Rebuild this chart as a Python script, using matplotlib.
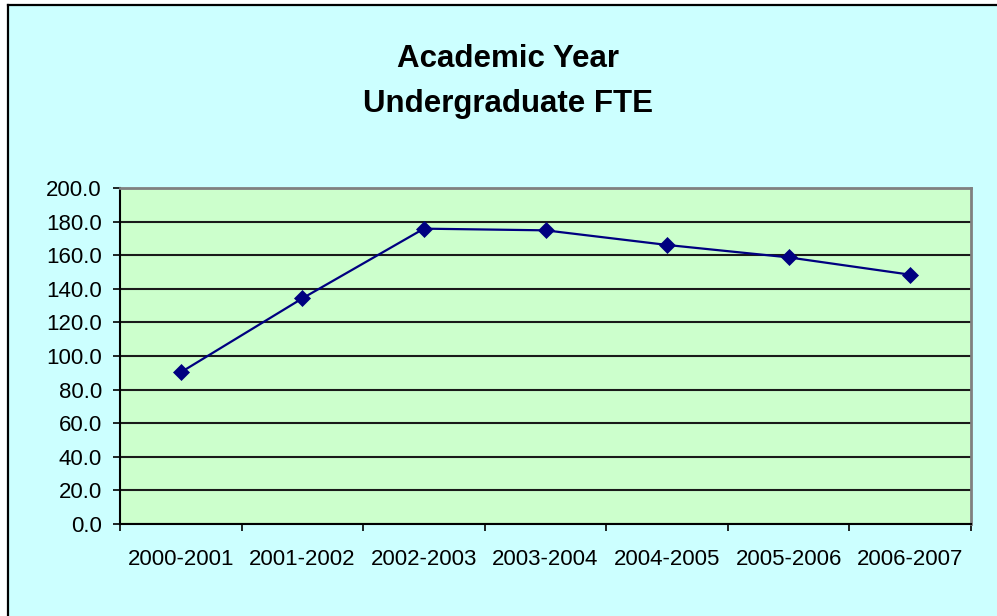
import matplotlib
matplotlib.use("Agg")
import matplotlib.pyplot as plt
from matplotlib.lines import Line2D
from matplotlib.patches import Rectangle

categories = ["2000-2001", "2001-2002", "2002-2003", "2003-2004",
              "2004-2005", "2005-2006", "2006-2007"]
fte = [90.3, 134.3, 175.8, 174.8, 166.1, 158.7, 148.4]
y_ticks = [0, 20, 40, 60, 80, 100, 120, 140, 160, 180, 200]
title_lines = ["Academic Year", "Undergraduate FTE"]

plt.rcParams['font.family'] = ['Liberation Sans', 'DejaVu Sans']

W, H = 997, 616
fig = plt.figure(figsize=(W / 100, H / 100), dpi=100, facecolor='white')

# chart background with border on top and left
fig.patches.append(Rectangle((8 / W, 0), 1 - 8 / W, 1 - 5 / H,
                             transform=fig.transFigure, facecolor='#CCFFFF',
                             edgecolor='none', zorder=-10))
fig.lines.append(Line2D([8 / W, 8 / W], [0, 1 - 5 / H], transform=fig.transFigure,
                        color='black', lw=1.6, zorder=-9))
fig.lines.append(Line2D([8 / W, 1], [1 - 5 / H, 1 - 5 / H], transform=fig.transFigure,
                        color='black', lw=1.6, zorder=-9))

left, right, top, bottom = 120, 971, 188, 524
ax = fig.add_axes([left / W, (H - bottom) / H, (right - left) / W, (bottom - top) / H])
ax.set_zorder(2)
ax.set_facecolor('#CCFFCC')

x = list(range(len(categories)))
ax.plot(x, fte, color='#000080', lw=1.6, marker='D', markersize=8.5,
        markerfacecolor='#000080', markeredgecolor='#000080', markeredgewidth=0.5,
        zorder=3)

ax.set_xlim(-0.5, len(categories) - 0.5)
ax.set_ylim(0, 200)
ax.set_yticks(y_ticks)
ax.set_yticklabels([f"{v:.1f}" for v in y_ticks], fontsize=16)
ax.yaxis.grid(True, color='#1a1a1a', lw=1.5)
ax.set_axisbelow(True)

ax.set_xticks([i - 0.5 for i in range(len(categories) + 1)])
ax.set_xticklabels([])
ax.set_xticks(x, minor=True)
ax.set_xticklabels(categories, minor=True, fontsize=16)
ax.tick_params(axis='x', which='major', direction='out', length=5, width=1.2, color='black')
ax.tick_params(axis='x', which='minor', length=0, pad=18)
ax.tick_params(axis='y', direction='out', length=5, width=1.2, color='black', pad=8)

for s in ['left', 'bottom']:
    ax.spines[s].set_color('black')
    ax.spines[s].set_linewidth(1.5)
for s in ['top', 'right']:
    ax.spines[s].set_color('#808080')
    ax.spines[s].set_linewidth(2)

fig.text(508 / W, 1 - 67 / H, title_lines[0], ha='center', va='baseline',
         fontsize=22.5, fontweight='bold')
fig.text(508 / W, 1 - 112 / H, title_lines[1], ha='center', va='baseline',
         fontsize=22.5, fontweight='bold')

fig.savefig('out.png', dpi=100, facecolor='white')
